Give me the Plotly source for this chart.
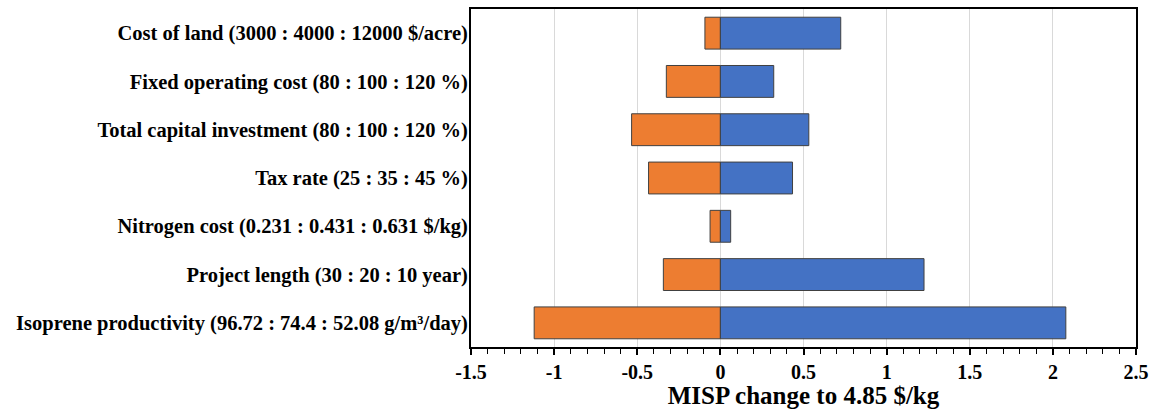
import plotly.graph_objects as go

categories = [
    "Cost of land (3000 : 4000 : 12000 $/acre)",
    "Fixed operating cost (80 : 100 : 120 %)",
    "Total capital investment (80 : 100 : 120 %)",
    "Tax rate (25 : 35 : 45 %)",
    "Nitrogen cost (0.231 : 0.431 : 0.631 $/kg)",
    "Project length (30 : 20 : 10 year)",
    "Isoprene productivity (96.72 : 74.4 : 52.08 g/m³/day)",
]
low_values = [-0.093, -0.325, -0.534, -0.432, -0.062, -0.343, -1.12]
high_values = [0.724, 0.321, 0.532, 0.434, 0.062, 1.225, 2.078]
tick_vals = [-1.5, -1, -0.5, 0, 0.5, 1, 1.5, 2, 2.5]
tick_text = ["-1.5", "-1", "-0.5", "0", "0.5", "1", "1.5", "2", "2.5"]

font_family = "Liberation Serif, Times New Roman, serif"

fig = go.Figure()
fig.add_trace(go.Bar(
    y=categories, x=low_values, orientation="h",
    marker=dict(color="#ED7D31", line=dict(color="#404040", width=1)),
    width=0.66, showlegend=False,
))
fig.add_trace(go.Bar(
    y=categories, x=high_values, orientation="h",
    marker=dict(color="#4472C4", line=dict(color="#404040", width=1)),
    width=0.66, showlegend=False,
))

fig.update_layout(
    barmode="relative",
    width=1151, height=409,
    margin=dict(l=471, r=15, t=9, b=62),
    plot_bgcolor="white", paper_bgcolor="white",
    font=dict(family=font_family, color="black"),
)
fig.update_xaxes(
    automargin=False,
    range=[-1.5, 2.5],
    tickvals=tick_vals, ticktext=tick_text,
    tickfont=dict(family=font_family, size=20, color="black", weight="bold"),
    showgrid=True, gridcolor="#D9D9D9", gridwidth=1,
    zeroline=False,
    showline=True, linecolor="black", linewidth=2, mirror=True,
    ticks="outside", ticklen=6, tickwidth=1.5, tickcolor="black",
    minor=dict(dtick=0.1, ticks="outside", ticklen=5, tickwidth=1, tickcolor="black", showgrid=False),
    title=dict(text="MISP change to 4.85 $/kg", standoff=0,
               font=dict(family=font_family, size=25, color="black", weight="bold")),
)
fig.update_yaxes(
    automargin=False,
    categoryorder="array", categoryarray=categories,
    autorange="reversed",
    tickfont=dict(family=font_family, size=20.5, color="black", weight="bold"),
    showline=True, linecolor="black", linewidth=2, mirror=True,
    ticks="", ticklen=0, ticklabelstandoff=-3,
)

fig.write_html("out.html", config={"displayModeBar": False},
               post_script="document.body.style.margin='0';")
